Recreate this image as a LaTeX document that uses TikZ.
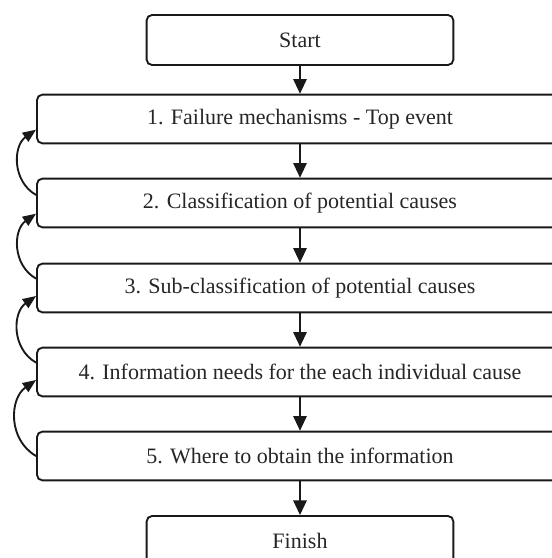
\documentclass[tikz,border=0pt]{standalone}
\usepackage{fontspec}
\setmainfont{Liberation Serif}
\usetikzlibrary{arrows.meta}
\begin{document}
\begin{tikzpicture}[x=0.75pt,y=-0.75pt,
  box/.style={draw=black!90, line width=1.4pt, rounded corners=4pt, fill=white,
    minimum width=394.5pt, minimum height=36.5pt, font=\fontsize{16.5}{19}\selectfont, text=black!85, inner sep=0pt},
  endbox/.style={box, minimum width=230pt, minimum height=37.5pt},
  flow/.style={line width=1.4pt, draw=black!90, -{Triangle[length=11pt,width=10pt]}},
  back/.style={line width=1.4pt, draw=black!90, -{Triangle[length=10pt,width=8pt]}, looseness=1.1}]
\useasboundingbox (0,0) rectangle (552,558);
\clip (0,0) rectangle (552,558);
\node[endbox] (s) at (300,40) {Start};
\node[box] (n1) at (300,119) {1. Failure mechanisms - Top event};
\node[box] (n2) at (300,203) {2. Classification of potential causes};
\node[box] (n3) at (300,288) {3. Sub-classification of potential causes};
\node[box] (n4) at (300,372) {4. Information needs for the each individual cause};
\node[box] (n5) at (300,456) {5. Where to obtain the information};
\node[endbox] (f) at (300,541) {Finish};
\draw[flow] (s) -- (n1);
\draw[flow] (n1) -- (n2);
\draw[flow] (n2) -- (n3);
\draw[flow] (n3) -- (n4);
\draw[flow] (n4) -- (n5);
\draw[flow] (n5) -- (f);
\draw[back] ([yshift=6pt]n2.west) to[out=150,in=215] ([yshift=-8pt]n1.west);
\draw[back] ([yshift=7pt]n3.west) to[out=150,in=215] ([yshift=-8pt]n2.west);
\draw[back] ([yshift=7pt]n4.west) to[out=150,in=215] ([yshift=-6pt]n3.west);
\draw[back] (n5.west) to[out=150,in=215] ([yshift=-6pt]n4.west);
\end{tikzpicture}
\end{document}
